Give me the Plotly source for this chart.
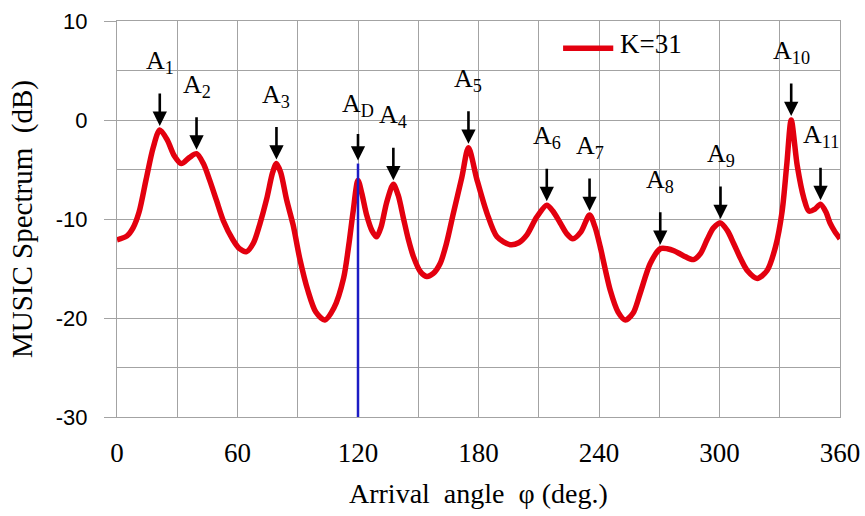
import plotly.graph_objects as go

# MUSIC spectrum, K = 31 snapshots
angle_deg = [0, 5, 8, 11, 14.5, 18, 21.3, 25, 28.5, 32, 36, 39.6, 43, 46, 49.5, 53, 57.7,
             61, 64.5, 68, 71, 74.5, 77.5, 79.4, 81.5, 84.5, 87.7, 91, 95, 99, 103.5,
             108, 112.8, 115.5, 117.6, 120, 122, 124.3, 127, 129.3, 131.5, 134.3, 137.6,
             140, 142.6, 145, 147.6, 151, 154.2, 157.5, 160.9, 164, 167.5, 171.7, 175,
             179.2, 184.2, 189.2, 195.8, 200, 204.1, 209, 214, 217, 220.7, 224, 227, 231,
             235.3, 238, 240.6, 245.6, 249.5, 253.1, 257, 260.5, 265.5, 270.5, 274,
             277.3, 282, 287.1, 290.5, 293.8, 297, 300.5, 304, 307.1, 310.5, 313.8,
             318.8, 323.7, 327.9, 331.2, 333.5, 335.7, 338.7, 342, 344.5, 347.5, 350.3,
             353, 355, 357.5, 360]
spectrum_db = [-12.1, -11.7, -10.9, -9.3, -6.0, -2.8, -1.0, -2.0, -3.6, -4.4, -3.8, -3.4,
               -4.4, -6.0, -8.1, -10.2, -12.1, -13.0, -13.3, -12.4, -10.6, -8.0, -5.3,
               -4.4, -5.3, -8.1, -10.6, -14.0, -17.2, -19.4, -20.2, -19.0, -16.0, -12.5,
               -9.2, -6.1, -7.5, -9.6, -11.2, -11.8, -10.8, -8.3, -6.5, -7.6, -9.9,
               -12.0, -13.8, -15.3, -15.8, -15.5, -14.5, -12.5, -9.4, -5.8, -2.8, -6.0,
               -9.4, -11.8, -12.6, -12.4, -11.6, -9.8, -8.6, -9.2, -10.4, -11.5, -12.0,
               -11.3, -9.6, -10.8, -12.8, -17.2, -19.4, -20.2, -19.5, -17.5, -14.5,
               -13.0, -13.0, -13.2, -13.7, -14.1, -13.5, -12.1, -10.9, -10.4, -11.2,
               -12.5, -14.0, -15.2, -16.0, -15.2, -12.8, -9.2, -4.5, 0.0, -4.6, -7.9,
               -9.2, -9.0, -8.5, -9.3, -10.4, -11.3, -12.0]

# Desired direction marker
desired_angle = 120
desired_top_db = -4.4

# Peak labels with their angles and levels
peak_labels = ["A<sub>1</sub>", "A<sub>2</sub>", "A<sub>3</sub>", "A<sub>D</sub>",
               "A<sub>4</sub>", "A<sub>5</sub>", "A<sub>6</sub>", "A<sub>7</sub>",
               "A<sub>8</sub>", "A<sub>9</sub>", "A<sub>10</sub>", "A<sub>11</sub>"]
peak_angles = [21.3, 39.6, 79.4, 120, 137.6, 175, 214, 235.3, 270.5, 300.5, 335.7, 350.3]
peak_levels = [-1.0, -3.4, -4.4, -4.4, -6.5, -2.8, -8.6, -9.6, -13.0, -10.4, 0.0, -8.5]

x_ticks = [0, 60, 120, 180, 240, 300, 360]
y_ticks = [-30, -20, -10, 0, 10]
y_tick_text = ["-30", "-20", "-10", "0", "10"]

SERIF = "Liberation Serif, Times New Roman, serif"
GRID = "#a3a3a3"
RED = "#e3000f"

fig = go.Figure()
fig.add_trace(go.Scatter(
    x=angle_deg, y=spectrum_db, mode="lines",
    line=dict(color=RED, width=5.5, shape="spline", smoothing=0.8),
    name="K=31", showlegend=False, hoverinfo="skip"))
fig.add_trace(go.Scatter(
    x=[desired_angle, desired_angle], y=[-30, desired_top_db], mode="lines",
    line=dict(color="#1c1cc4", width=2.5), showlegend=False, hoverinfo="skip"))

annotations = []
for lab, ang, lev in zip(peak_labels, peak_angles, peak_levels):
    is_d = "D" in lab
    tail = 31 if is_d else 38
    annotations.append(dict(
        x=ang, y=lev, xref="x", yref="y", text="", showarrow=True,
        ax=0, ay=-tail, arrowhead=2, arrowsize=1.1, arrowwidth=2.6,
        arrowcolor="black", standoff=3 if is_d else 4))
    annotations.append(dict(
        x=ang, y=lev, xref="x", yref="y", text=lab, showarrow=False,
        xanchor="center", yanchor="middle", yshift=tail + (28 if is_d else 30),
        font=dict(family=SERIF, size=26, color="black")))

# legend entry
annotations.append(dict(
    x=0.6933, y=0.941, xref="paper", yref="paper", text="K=31", showarrow=False,
    xanchor="left", yanchor="middle",
    font=dict(family=SERIF, size=27, color="black")))
# axis titles
annotations.append(dict(
    x=0, y=0.5, xref="paper", yref="paper", xshift=-95, textangle=-90,
    text="MUSIC Spectrum\u00a0\u00a0(dB)", showarrow=False,
    xanchor="center", yanchor="middle",
    font=dict(family=SERIF, size=29, color="black")))
annotations.append(dict(
    x=0.5, y=-0.192, xref="paper", yref="paper",
    text="Arrival\u00a0\u00a0angle\u00a0\u00a0\u03c6 (deg.)", showarrow=False,
    xanchor="center", yanchor="middle",
    font=dict(family=SERIF, size=28, color="black")))

shapes = [dict(type="line", xref="paper", yref="paper",
               x0=0.617, x1=0.6864, y0=0.931, y1=0.931,
               line=dict(color=RED, width=5.5))]

fig.update_layout(
    width=865, height=516,
    margin=dict(l=117, r=25, t=21, b=99),
    paper_bgcolor="white", plot_bgcolor="white",
    annotations=annotations, shapes=shapes,
    showlegend=False,
    xaxis=dict(range=[0, 360], tickvals=x_ticks, showgrid=True, gridcolor=GRID,
               gridwidth=1, zeroline=False, showline=True, linecolor=GRID,
               linewidth=1, mirror=True, ticks="", ticklabelstandoff=12,
               automargin=False,
               tickfont=dict(family=SERIF, size=27, color="black"),
               minor=dict(dtick=30, tick0=0, showgrid=True, gridcolor=GRID,
                          gridwidth=1)),
    yaxis=dict(range=[-30, 10], tickvals=y_ticks, ticktext=y_tick_text,
               showgrid=True, gridcolor=GRID,
               gridwidth=1, zeroline=False, showline=True, linecolor=GRID,
               linewidth=1, mirror=True, ticks="outside", ticklen=12,
               tickcolor=GRID, tickwidth=1, ticklabelstandoff=12, automargin=False,
               tickfont=dict(family="Liberation Sans, Arial, sans-serif", size=22,
                             color="black"),
               minor=dict(dtick=5, tick0=0, showgrid=True, gridcolor=GRID,
                          gridwidth=1)),
)

fig.write_html("out.html")
